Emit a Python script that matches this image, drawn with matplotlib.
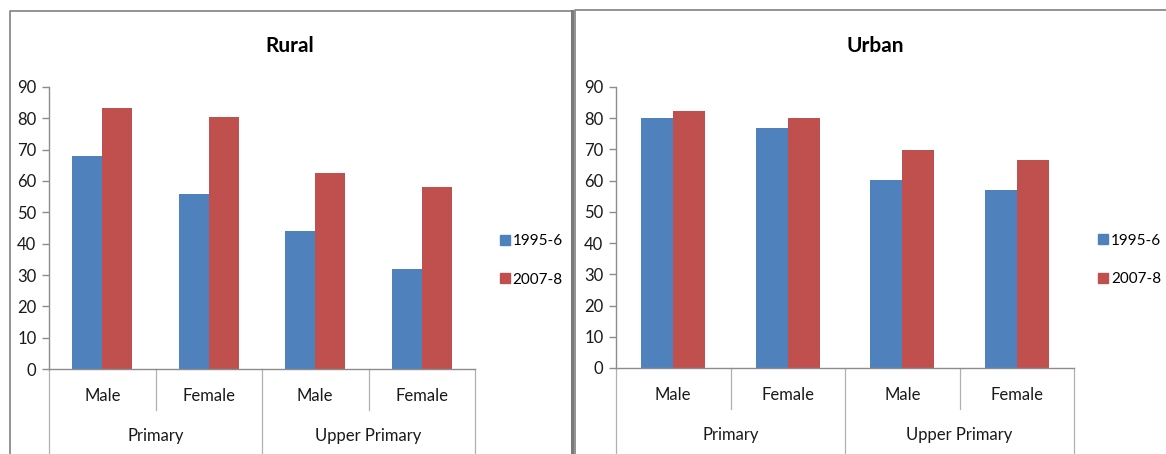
import matplotlib
matplotlib.use("Agg")
import matplotlib.pyplot as plt
from matplotlib.lines import Line2D
from matplotlib.patches import Patch
import matplotlib.transforms as mtransforms

plt.rcParams['font.family'] = ['Lato', 'DejaVu Sans']

# enrolment ratios by level and sex
sexes = ["Male", "Female", "Male", "Female"]
levels = ["Primary", "Upper Primary"]
years = ["1995-6", "2007-8"]
rural_1995 = [68, 56, 44, 32]
rural_2007 = [83.3, 80.4, 62.4, 58]
urban_1995 = [80, 77, 60.2, 57]
urban_2007 = [82.2, 80.2, 69.7, 66.5]

BLUE = "#4F81BD"
RED = "#C0504D"
AXIS = "#8C8C8C"
TXT = "#1A1A1A"
FS = 12

W, H = 1166, 454
fig = plt.figure(figsize=(W / 100, H / 100), dpi=100)


def px(x0, y0, x1, y1):
    # pixel box (top-left origin) -> figure fraction rect
    return [x0 / W, 1 - y1 / H, (x1 - x0) / W, (y1 - y0) / H]


def fline(xs, ys, **kw):
    fig.add_artist(Line2D([x / W for x in xs], [1 - y / H for y in ys],
                          transform=fig.transFigure, **kw))


# chart frames
fline([10, 10, 572], [H + 2, 11, 11], color="#8A8A8A", lw=1.3)
fline([572, 572], [11, H + 2], color="#7A7A7A", lw=2.2)
fline([575, 575, W + 2], [H + 2, 10, 10], color="#8A8A8A", lw=1.3)


def panel(rect, title, title_x, s1995, s2007, leg_x):
    ax = fig.add_axes(rect)
    n = len(sexes)
    xs = list(range(n))
    bw = 0.28
    ax.bar([x - bw / 2 for x in xs], s1995, bw, color=BLUE, zorder=2)
    ax.bar([x + bw / 2 for x in xs], s2007, bw, color=RED, zorder=2)
    ax.set_xlim(-0.5, n - 0.5)
    ax.set_ylim(0, 90)
    ax.set_yticks(range(0, 91, 10))
    ax.set_xticks([])
    for s in ["top", "right"]:
        ax.spines[s].set_visible(False)
    for s in ["left", "bottom"]:
        ax.spines[s].set_color(AXIS)
        ax.spines[s].set_linewidth(1)
    ax.tick_params(axis="y", length=5, width=1, color=AXIS, pad=4,
                   labelsize=FS, labelcolor=TXT)

    tr = mtransforms.blended_transform_factory(ax.transData, ax.transAxes)
    # category separators
    for i in range(n + 1):
        x = i - 0.5
        low = -0.31 if i % 2 == 0 else -0.145
        ax.add_line(Line2D([x, x], [0, low], transform=tr, color="#B0B0B0",
                           lw=0.9, clip_on=False))
    for x, lab in zip(xs, sexes):
        ax.text(x, -0.095, lab, transform=tr, ha="center", va="center",
                fontsize=FS, color=TXT)
    for g, lab in enumerate(levels):
        ax.text(2 * g + 0.5, -0.238, lab, transform=tr, ha="center",
                va="center", fontsize=FS, color=TXT)

    fig.text(title_x / W, 1 - 46 / H, title, ha="center", va="center",
             fontsize=15, fontweight="bold", color="black")

    handles = [Patch(color=BLUE), Patch(color=RED)]
    ax.legend(handles, years, loc="center left", bbox_to_anchor=(leg_x, 0.385),
              frameon=False, fontsize=11, handlelength=0.65, handleheight=0.65,
              handletextpad=0.2, labelspacing=1.6, borderpad=0,
              borderaxespad=0)
    return ax


panel(px(49, 87, 475, 369), "Rural", 290, rural_1995, rural_2007, 1.058)
panel(px(616, 87, 1074, 368), "Urban", 875, urban_1995, urban_2007, 1.053)

fig.savefig("out.png", dpi=100)
